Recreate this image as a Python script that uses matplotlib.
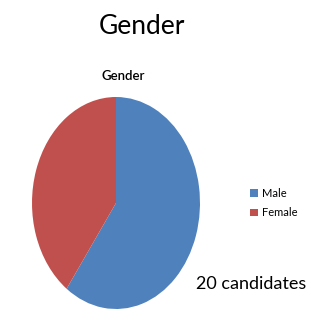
import matplotlib
matplotlib.use("Agg")
import matplotlib.pyplot as plt
from matplotlib.patches import Patch

labels = ["Male", "Female"]
counts = [12, 8]
colors = ["#4F81BD", "#C0504D"]
title = "Gender"
subtitle = "Gender"
note = "20 candidates"

plt.rcParams['font.family'] = ['Lato', 'DejaVu Sans']

fig = plt.figure(figsize=(3.2, 3.2), dpi=100)
fig.patch.set_facecolor("white")

ax = fig.add_axes([32/320, 1 - 309/320, 168/320, 212/320])
ax.pie(counts, colors=colors, startangle=90, counterclock=False,
       wedgeprops=dict(linewidth=0))
ax.set_aspect('auto')
ax.set_xlim(-1, 1)
ax.set_ylim(-1, 1)
ax.axis('off')

fig.text(142/320, 1 - 26/320, title, ha='center', va='center', fontsize=19)
fig.text(123/320, 1 - 76/320, subtitle, ha='center', va='center', fontsize=9.5, fontweight='semibold')
fig.text(251/320, 1 - 284/320, note, ha='center', va='center', fontsize=13)

handles = [Patch(facecolor=c, edgecolor='none') for c in colors]
fig.legend(handles, labels, loc='center left', bbox_to_anchor=(246/320, 1 - 203/320),
           frameon=False, fontsize=8, handlelength=0.7, handleheight=0.7,
           handletextpad=0.3, labelspacing=0.8, borderaxespad=0)

fig.savefig("out.png", dpi=100, facecolor="white")
